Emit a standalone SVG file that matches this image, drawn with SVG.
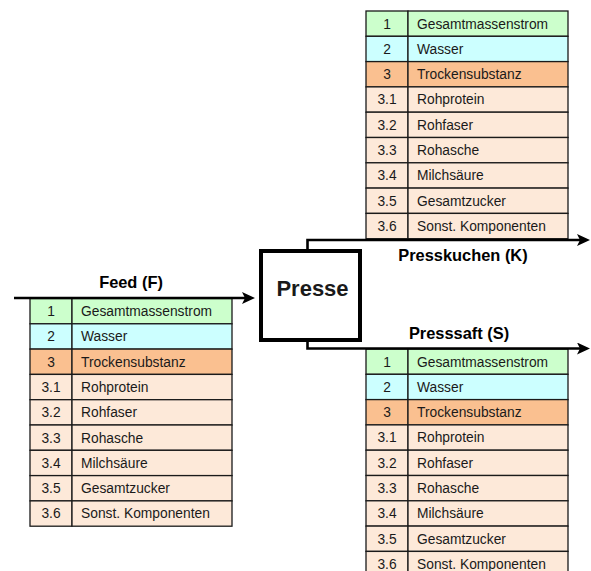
<svg xmlns="http://www.w3.org/2000/svg" width="591" height="571" viewBox="0 0 591 571">
<style>
.cell{stroke:#1a1a1a;stroke-width:1.3}
.g{fill:#CCFFCC}.c{fill:#CCFFFF}.o{fill:#FAC090}.p{fill:#FDE9D9}
text{font-family:"Liberation Sans",Arial,sans-serif;fill:#1a1a1a}
.n{font-size:13.8px;text-anchor:middle}
.t{font-size:13.8px}
.lbl{font-size:16.4px;font-weight:bold;text-anchor:middle;fill:#000}
.conn{fill:none;stroke:#000;stroke-width:2.6;marker-end:url(#arr)}
</style>
<defs>
<marker id="arr" markerUnits="userSpaceOnUse" markerWidth="14" markerHeight="13" refX="3" refY="6" orient="auto">
<path d="M0,0 L13,6 L0,12 L3,6 Z" fill="#000"/>
</marker>
</defs>

<g id="table-presskuchen" transform="translate(366,11)">
<rect class="cell g" x="0" y="0" width="42" height="25.3"/><rect class="cell g" x="42" y="0" width="160" height="25.3"/>
<rect class="cell c" x="0" y="25.3" width="42" height="25.3"/><rect class="cell c" x="42" y="25.3" width="160" height="25.3"/>
<rect class="cell o" x="0" y="50.6" width="42" height="25.3"/><rect class="cell o" x="42" y="50.6" width="160" height="25.3"/>
<rect class="cell p" x="0" y="75.9" width="42" height="25.3"/><rect class="cell p" x="42" y="75.9" width="160" height="25.3"/>
<rect class="cell p" x="0" y="101.2" width="42" height="25.3"/><rect class="cell p" x="42" y="101.2" width="160" height="25.3"/>
<rect class="cell p" x="0" y="126.5" width="42" height="25.3"/><rect class="cell p" x="42" y="126.5" width="160" height="25.3"/>
<rect class="cell p" x="0" y="151.8" width="42" height="25.3"/><rect class="cell p" x="42" y="151.8" width="160" height="25.3"/>
<rect class="cell p" x="0" y="177.1" width="42" height="25.3"/><rect class="cell p" x="42" y="177.1" width="160" height="25.3"/>
<rect class="cell p" x="0" y="202.4" width="42" height="25.3"/><rect class="cell p" x="42" y="202.4" width="160" height="25.3"/>
<text class="n" x="21" y="17.5">1</text><text class="t" x="51" y="17.5">Gesamtmassenstrom</text>
<text class="n" x="21" y="42.8">2</text><text class="t" x="51" y="42.8">Wasser</text>
<text class="n" x="21" y="68.1">3</text><text class="t" x="51" y="68.1">Trockensubstanz</text>
<text class="n" x="21" y="93.4">3.1</text><text class="t" x="51" y="93.4">Rohprotein</text>
<text class="n" x="21" y="118.7">3.2</text><text class="t" x="51" y="118.7">Rohfaser</text>
<text class="n" x="21" y="144">3.3</text><text class="t" x="51" y="144">Rohasche</text>
<text class="n" x="21" y="169.3">3.4</text><text class="t" x="51" y="169.3">Milchsäure</text>
<text class="n" x="21" y="194.6">3.5</text><text class="t" x="51" y="194.6">Gesamtzucker</text>
<text class="n" x="21" y="219.9">3.6</text><text class="t" x="51" y="219.9">Sonst. Komponenten</text>
</g>

<g id="table-feed" transform="translate(30,298.5)">
<rect class="cell g" x="0" y="0" width="42" height="25.3"/><rect class="cell g" x="42" y="0" width="160" height="25.3"/>
<rect class="cell c" x="0" y="25.3" width="42" height="25.3"/><rect class="cell c" x="42" y="25.3" width="160" height="25.3"/>
<rect class="cell o" x="0" y="50.6" width="42" height="25.3"/><rect class="cell o" x="42" y="50.6" width="160" height="25.3"/>
<rect class="cell p" x="0" y="75.9" width="42" height="25.3"/><rect class="cell p" x="42" y="75.9" width="160" height="25.3"/>
<rect class="cell p" x="0" y="101.2" width="42" height="25.3"/><rect class="cell p" x="42" y="101.2" width="160" height="25.3"/>
<rect class="cell p" x="0" y="126.5" width="42" height="25.3"/><rect class="cell p" x="42" y="126.5" width="160" height="25.3"/>
<rect class="cell p" x="0" y="151.8" width="42" height="25.3"/><rect class="cell p" x="42" y="151.8" width="160" height="25.3"/>
<rect class="cell p" x="0" y="177.1" width="42" height="25.3"/><rect class="cell p" x="42" y="177.1" width="160" height="25.3"/>
<rect class="cell p" x="0" y="202.4" width="42" height="25.3"/><rect class="cell p" x="42" y="202.4" width="160" height="25.3"/>
<text class="n" x="21" y="17.5">1</text><text class="t" x="51" y="17.5">Gesamtmassenstrom</text>
<text class="n" x="21" y="42.8">2</text><text class="t" x="51" y="42.8">Wasser</text>
<text class="n" x="21" y="68.1">3</text><text class="t" x="51" y="68.1">Trockensubstanz</text>
<text class="n" x="21" y="93.4">3.1</text><text class="t" x="51" y="93.4">Rohprotein</text>
<text class="n" x="21" y="118.7">3.2</text><text class="t" x="51" y="118.7">Rohfaser</text>
<text class="n" x="21" y="144">3.3</text><text class="t" x="51" y="144">Rohasche</text>
<text class="n" x="21" y="169.3">3.4</text><text class="t" x="51" y="169.3">Milchsäure</text>
<text class="n" x="21" y="194.6">3.5</text><text class="t" x="51" y="194.6">Gesamtzucker</text>
<text class="n" x="21" y="219.9">3.6</text><text class="t" x="51" y="219.9">Sonst. Komponenten</text>
</g>

<g id="table-presssaft" transform="translate(366,349)">
<rect class="cell g" x="0" y="0" width="42" height="25.3"/><rect class="cell g" x="42" y="0" width="160" height="25.3"/>
<rect class="cell c" x="0" y="25.3" width="42" height="25.3"/><rect class="cell c" x="42" y="25.3" width="160" height="25.3"/>
<rect class="cell o" x="0" y="50.6" width="42" height="25.3"/><rect class="cell o" x="42" y="50.6" width="160" height="25.3"/>
<rect class="cell p" x="0" y="75.9" width="42" height="25.3"/><rect class="cell p" x="42" y="75.9" width="160" height="25.3"/>
<rect class="cell p" x="0" y="101.2" width="42" height="25.3"/><rect class="cell p" x="42" y="101.2" width="160" height="25.3"/>
<rect class="cell p" x="0" y="126.5" width="42" height="25.3"/><rect class="cell p" x="42" y="126.5" width="160" height="25.3"/>
<rect class="cell p" x="0" y="151.8" width="42" height="25.3"/><rect class="cell p" x="42" y="151.8" width="160" height="25.3"/>
<rect class="cell p" x="0" y="177.1" width="42" height="25.3"/><rect class="cell p" x="42" y="177.1" width="160" height="25.3"/>
<rect class="cell p" x="0" y="202.4" width="42" height="25.3"/><rect class="cell p" x="42" y="202.4" width="160" height="25.3"/>
<text class="n" x="21" y="17.5">1</text><text class="t" x="51" y="17.5">Gesamtmassenstrom</text>
<text class="n" x="21" y="42.8">2</text><text class="t" x="51" y="42.8">Wasser</text>
<text class="n" x="21" y="68.1">3</text><text class="t" x="51" y="68.1">Trockensubstanz</text>
<text class="n" x="21" y="93.4">3.1</text><text class="t" x="51" y="93.4">Rohprotein</text>
<text class="n" x="21" y="118.7">3.2</text><text class="t" x="51" y="118.7">Rohfaser</text>
<text class="n" x="21" y="144">3.3</text><text class="t" x="51" y="144">Rohasche</text>
<text class="n" x="21" y="169.3">3.4</text><text class="t" x="51" y="169.3">Milchsäure</text>
<text class="n" x="21" y="194.6">3.5</text><text class="t" x="51" y="194.6">Gesamtzucker</text>
<text class="n" x="21" y="219.9">3.6</text><text class="t" x="51" y="219.9">Sonst. Komponenten</text>
</g>

<g id="connectors">
<path class="conn" d="M14,298 H245"/>
<path class="conn" d="M307.5,251 V240 H580"/>
<path class="conn" d="M307.5,340 V348.5 H580"/>
<text class="lbl" x="131" y="288">Feed (F)</text>
<text class="lbl" x="463" y="261">Presskuchen (K)</text>
<text class="lbl" x="459" y="339">Presssaft (S)</text>
</g>

<g id="presse">
<rect x="261" y="251" width="99" height="89" fill="#fff" stroke="#000" stroke-width="4"/>
<text x="312.5" y="296" font-size="22" font-weight="bold" text-anchor="middle" fill="#000">Presse</text>
</g>
</svg>
